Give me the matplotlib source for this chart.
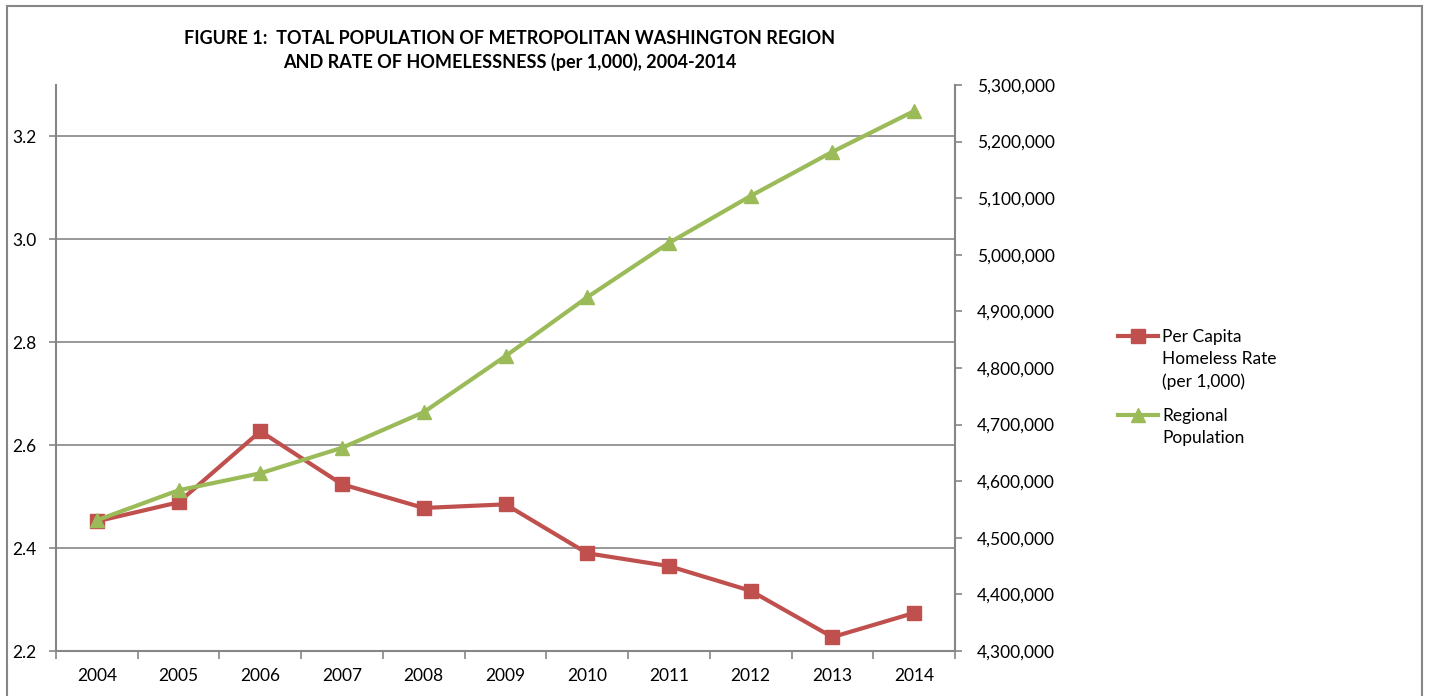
import numpy as np
import matplotlib
matplotlib.use("Agg")
import matplotlib.pyplot as plt
from matplotlib.patches import Rectangle
from matplotlib.lines import Line2D
from matplotlib.ticker import FuncFormatter, FixedLocator

plt.rcParams['font.family'] = ['Lato', 'DejaVu Sans']

years = ['2004', '2005', '2006', '2007', '2008', '2009', '2010', '2011', '2012', '2013', '2014']
homeless_rate = [2.452, 2.489, 2.627, 2.524, 2.478, 2.485, 2.390, 2.365, 2.317, 2.227, 2.274]
population = [4531000, 4584000, 4614000, 4659000, 4722000, 4821000, 4925000, 5021000, 5104000, 5182000, 5254000]
labels = ['Per Capita\nHomeless Rate\n(per 1,000)', 'Regional\nPopulation']

red = '#C0504D'
green = '#9BBB59'
grey = '#868686'

W, H = 1429, 696
fig = plt.figure(figsize=(W/100, H/100), dpi=100)
ax = fig.add_axes([56/W, 1-651/H, (955-56)/W, (651-85)/H])
ax2 = ax.twinx()

x = np.arange(len(years))
l1, = ax.plot(x, homeless_rate, color=red, lw=3, marker='s', ms=10)
l2, = ax2.plot(x, population, color=green, lw=3, marker='^', ms=10)

ax.set_xlim(-0.5, len(years) - 0.5)
ax.set_ylim(2.2, 3.3)
ax.set_yticks([2.2, 2.4, 2.6, 2.8, 3.0, 3.2])
ax.yaxis.set_major_formatter(FuncFormatter(lambda v, p: f'{v:.1f}'))
ax2.set_ylim(4300000, 5300000)
ax2.set_yticks(np.arange(4300000, 5300001, 100000))
ax2.yaxis.set_major_formatter(FuncFormatter(lambda v, p: f'{int(v):,}'))

# ticks between categories, labels on categories
ax.xaxis.set_major_locator(FixedLocator(np.arange(-0.5, len(years), 1.0)))
ax.set_xticklabels([], minor=False)
ax.set_xticks(x, minor=True)
ax.set_xticklabels(years, minor=True)
ax.tick_params(axis='x', which='major', length=6, width=1.2, color=grey, direction='out')
ax.tick_params(axis='x', which='minor', length=0, pad=12, labelsize=12.5)
ax.tick_params(axis='y', length=5, width=1.2, color=grey, pad=9, labelsize=12.5)
ax2.tick_params(axis='y', length=5, width=1.2, color=grey, pad=11, labelsize=12.5)

ax.grid(axis='y', color=grey, lw=1.2)
ax.set_axisbelow(True)
for a in (ax, ax2):
    a.spines['top'].set_visible(False)
    for s in ('left', 'right', 'bottom'):
        a.spines[s].set_color(grey)
        a.spines[s].set_linewidth(1.5)
ax.spines['right'].set_visible(False)
ax2.spines['left'].set_visible(False)
ax2.spines['bottom'].set_visible(False)

fig.text(510/W, 1-39/H, 'FIGURE 1:  TOTAL POPULATION OF METROPOLITAN WASHINGTON REGION',
         ha='center', va='center', fontsize=13, fontweight='bold')
fig.text(510/W, 1-62/H, 'AND RATE OF HOMELESSNESS (per 1,000), 2004-2014',
         ha='center', va='center', fontsize=13, fontweight='bold')

# legend, Excel style: handle aligned with the first text line
for line, label, ytop in zip([l1, l2], labels, [336, 415]):
    fig.add_artist(Line2D([1118/W, 1158/W], [1-ytop/H, 1-ytop/H], transform=fig.transFigure,
                          color=line.get_color(), lw=line.get_linewidth()))
    fig.add_artist(Line2D([1138/W], [1-ytop/H], transform=fig.transFigure,
                          color=line.get_color(), marker=line.get_marker(), ms=line.get_markersize(), lw=0))
    fig.text(1162/W, 1-(ytop-7)/H, label, ha='left', va='top', fontsize=12.5, linespacing=1.45)

fig.patches.append(Rectangle((7/W, -0.05), (1422-7)/W, 1.05-6/H, transform=fig.transFigure,
                             fill=False, edgecolor=grey, lw=1.5))

fig.savefig('out.png', dpi=100)
